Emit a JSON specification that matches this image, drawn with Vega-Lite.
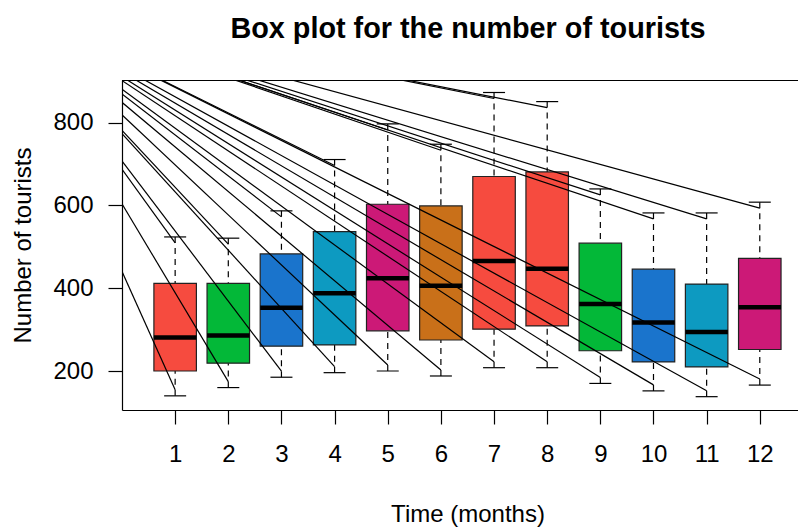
{
  "$schema": "https://vega.github.io/schema/vega-lite/v6.json",
  "autosize": "none",
  "width": 676,
  "height": 330,
  "padding": {"left": 122, "top": 80, "right": 0, "bottom": 119},
  "background": "white",
  "title": {
    "text": "Box plot for the number of tourists",
    "font": "Liberation Sans",
    "fontSize": 28.8,
    "fontWeight": "bold",
    "color": "black",
    "anchor": "middle",
    "dx": 8,
    "offset": 36
  },
  "config": {
    "font": "Liberation Sans",
    "view": {"stroke": null}
  },
  "datasets": {
    "boxes": [
      {"month": 1, "lower": 140, "q1": 200, "median": 281, "q3": 412, "upper": 524},
      {"month": 2, "lower": 160, "q1": 219, "median": 286, "q3": 412, "upper": 521},
      {"month": 3, "lower": 185, "q1": 260, "median": 353, "q3": 483, "upper": 587},
      {"month": 4, "lower": 196, "q1": 263, "median": 388, "q3": 537, "upper": 711},
      {"month": 5, "lower": 200, "q1": 297, "median": 424, "q3": 603, "upper": 797},
      {"month": 6, "lower": 188, "q1": 275, "median": 406, "q3": 599, "upper": 748},
      {"month": 7, "lower": 208, "q1": 301, "median": 466, "q3": 670, "upper": 873},
      {"month": 8, "lower": 208, "q1": 309, "median": 447, "q3": 681, "upper": 851},
      {"month": 9, "lower": 170, "q1": 249, "median": 362, "q3": 509, "upper": 640},
      {"month": 10, "lower": 152, "q1": 222, "median": 317, "q3": 446, "upper": 582},
      {"month": 11, "lower": 138, "q1": 210, "median": 294, "q3": 410, "upper": 582},
      {"month": 12, "lower": 166, "q1": 252, "median": 354, "q3": 472, "upper": 608}
    ],
    "segments": [
      {"month": 1, "yend": 154.5}, {"month": 1, "yend": 509.5},
      {"month": 2, "yend": 174.5}, {"month": 2, "yend": 506.5},
      {"month": 3, "yend": 199.5}, {"month": 3, "yend": 572.5},
      {"month": 4, "yend": 210.5}, {"month": 4, "yend": 696.5},
      {"month": 5, "yend": 214.5}, {"month": 5, "yend": 782.5},
      {"month": 6, "yend": 202.5}, {"month": 6, "yend": 733.5},
      {"month": 7, "yend": 222.5}, {"month": 7, "yend": 858.5},
      {"month": 8, "yend": 222.5}, {"month": 8, "yend": 836.5},
      {"month": 9, "yend": 184.5}, {"month": 9, "yend": 625.5},
      {"month": 10, "yend": 166.5}, {"month": 10, "yend": 567.5},
      {"month": 11, "yend": 152.5}, {"month": 11, "yend": 567.5},
      {"month": 12, "yend": 180.5}, {"month": 12, "yend": 593.5}
    ]
  },
  "layer": [
    {
      "data": {"name": "boxes"},
      "mark": {"type": "rule", "color": "black", "strokeWidth": 1.2, "strokeDash": [6, 5]},
      "encoding": {
        "x": {
          "field": "month", "type": "quantitative",
          "scale": {"domain": [0, 12.719], "nice": false, "zero": false, "padding": 0},
          "axis": {
            "values": [1, 2, 3, 4, 5, 6, 7, 8, 9, 10, 11, 12],
            "grid": false,
            "domain": true, "domainColor": "black", "domainWidth": 1.2,
            "ticks": true, "tickSize": 14, "tickColor": "black", "tickWidth": 1.2,
            "labelFont": "Liberation Sans", "labelFontSize": 24, "labelColor": "black",
            "labelPadding": 18, "labelFlush": false, "labelOverlap": false, "labelBound": false,
            "title": "Time (months)",
            "titleFont": "Liberation Sans", "titleFontSize": 24, "titleFontWeight": "normal", "titleColor": "black",
            "titlePadding": 36, "titleX": 345.5
          }
        },
        "y": {
          "field": "upper", "type": "quantitative",
          "scale": {"domain": [105.8, 903.2], "nice": false, "zero": false, "padding": 0},
          "axis": {
            "values": [200, 400, 600, 800],
            "grid": false,
            "domain": true, "domainColor": "black", "domainWidth": 1.2,
            "ticks": true, "tickSize": 14, "tickColor": "black", "tickWidth": 1.2,
            "labelFont": "Liberation Sans", "labelFontSize": 24, "labelColor": "black",
            "labelPadding": 15, "labelAngle": 0, "labelFlush": false, "labelOverlap": false,
            "title": "Number of tourists",
            "titleFont": "Liberation Sans", "titleFontSize": 24, "titleFontWeight": "normal", "titleColor": "black",
            "titlePadding": 17
          }
        },
        "y2": {"field": "q3"}
      }
    },
    {
      "data": {"name": "boxes"},
      "mark": {"type": "rule", "color": "black", "strokeWidth": 1.2, "strokeDash": [6, 5]},
      "encoding": {
        "x": {"field": "month", "type": "quantitative"},
        "y": {"field": "lower", "type": "quantitative"},
        "y2": {"field": "q1"}
      }
    },
    {
      "data": {"name": "boxes"},
      "mark": {"type": "tick", "orient": "horizontal", "color": "black", "size": 22, "thickness": 1.2, "opacity": 1},
      "encoding": {
        "x": {"field": "month", "type": "quantitative"},
        "y": {"field": "upper", "type": "quantitative"}
      }
    },
    {
      "data": {"name": "boxes"},
      "mark": {"type": "tick", "orient": "horizontal", "color": "black", "size": 22, "thickness": 1.2, "opacity": 1},
      "encoding": {
        "x": {"field": "month", "type": "quantitative"},
        "y": {"field": "lower", "type": "quantitative"}
      }
    },
    {
      "data": {"name": "boxes"},
      "mark": {"type": "bar", "width": 42.5, "stroke": "#222222", "strokeWidth": 1.2, "opacity": 1},
      "encoding": {
        "x": {"field": "month", "type": "quantitative"},
        "y": {"field": "q1", "type": "quantitative"},
        "y2": {"field": "q3"},
        "color": {
          "field": "month", "type": "nominal",
          "scale": {
            "domain": [1, 2, 3, 4, 5, 6, 7, 8, 9, 10, 11, 12],
            "range": ["#F64B3F", "#03B838", "#1A74CC", "#0D9AC1", "#CC1977", "#C97019", "#F64B3F", "#F64B3F", "#03B838", "#1A74CC", "#0D9AC1", "#CC1977"]
          },
          "legend": null
        }
      }
    },
    {
      "data": {"name": "boxes"},
      "mark": {"type": "tick", "orient": "horizontal", "color": "black", "size": 42.5, "thickness": 4.5, "opacity": 1},
      "encoding": {
        "x": {"field": "month", "type": "quantitative"},
        "y": {"field": "median", "type": "quantitative"}
      }
    },
    {
      "data": {"name": "segments"},
      "mark": {"type": "rule", "color": "black", "strokeWidth": 1.2, "clip": true},
      "encoding": {
        "x": {"field": "month", "type": "quantitative"},
        "y": {"field": "yend", "type": "quantitative"},
        "x2": {"datum": -2.295},
        "y2": {"datum": 1096.5}
      }
    },
    {
      "data": {"name": "boxes"},
      "mark": {"type": "rule", "color": "black", "strokeWidth": 1.2},
      "encoding": {
        "y": {"datum": 902, "type": "quantitative"}
      }
    }
  ]
}
